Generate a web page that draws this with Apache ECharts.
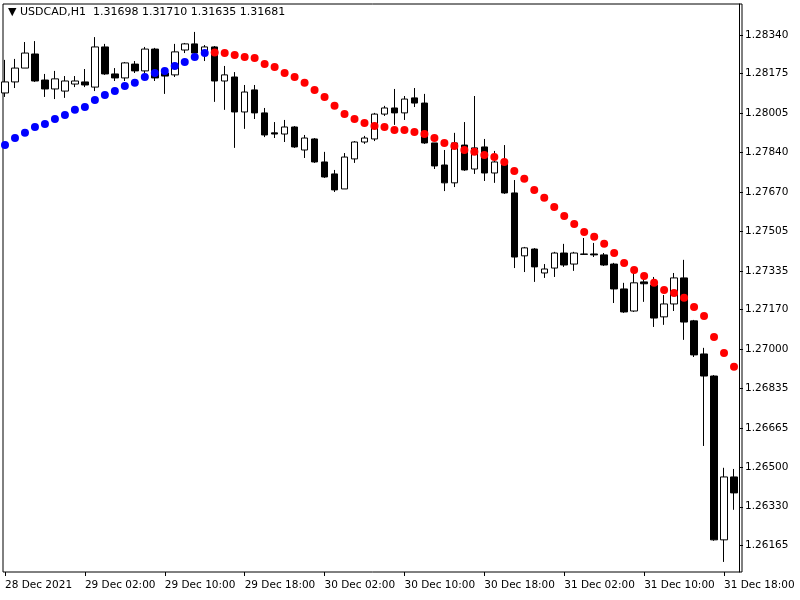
<!DOCTYPE html>
<html><head><meta charset="utf-8">
<script src="https://cdn.jsdelivr.net/npm/echarts@6/dist/echarts.min.js"></script>
<style>html,body{margin:0;padding:0;background:#fff}#c{width:800px;height:600px}</style>
</head><body><div id="c"></div>
<script>
// [open, close, low, high]
const candles = [
[1.28093,1.28140,1.28076,1.28234],[1.28140,1.28199,1.28114,1.28238],[1.28199,1.28263,1.28199,1.28310],[1.28259,1.28144,1.28140,1.28314],
[1.28148,1.28110,1.28076,1.28174],[1.28110,1.28153,1.28067,1.28187],[1.28101,1.28144,1.28072,1.28165],[1.28131,1.28144,1.28118,1.28165],
[1.28140,1.28127,1.28118,1.28195],[1.28118,1.28289,1.28101,1.28331],[1.28289,1.28174,1.28170,1.28302],[1.28174,1.28157,1.28144,1.28199],
[1.28157,1.28221,1.28144,1.28225],[1.28216,1.28187,1.28178,1.28229],[1.28187,1.28280,1.28178,1.28289],[1.28280,1.28157,1.28144,1.28285],
[1.28178,1.28165,1.28089,1.28191],[1.28170,1.28268,1.28161,1.28302],[1.28276,1.28302,1.28263,1.28306],[1.28302,1.28263,1.28238,1.28353],
[1.28268,1.28289,1.28229,1.28297],[1.28289,1.28144,1.28055,1.28293],[1.28144,1.28170,1.28021,1.28208],[1.28161,1.28012,1.27859,1.28182],
[1.28012,1.28097,1.27940,1.28127],[1.28106,1.28008,1.27982,1.28127],[1.28008,1.27914,1.27905,1.28029],[1.27923,1.27918,1.27901,1.27969],
[1.27918,1.27948,1.27884,1.27978],[1.27948,1.27863,1.27859,1.27952],[1.27850,1.27901,1.27816,1.27914],[1.27897,1.27799,1.27795,1.27901],
[1.27799,1.27735,1.27731,1.27842],[1.27748,1.27680,1.27671,1.27765],[1.27684,1.27820,1.27684,1.27837],[1.27812,1.27884,1.27795,1.27888],
[1.27884,1.27901,1.27876,1.27910],[1.27897,1.28003,1.27888,1.28008],[1.28003,1.28029,1.27995,1.28038],[1.28029,1.28008,1.27957,1.28110],
[1.28008,1.28067,1.27978,1.28080],[1.28072,1.28050,1.28033,1.28114],[1.28050,1.27880,1.27876,1.28089],[1.27880,1.27782,1.27769,1.27880],
[1.27786,1.27710,1.27675,1.27850],[1.27710,1.27880,1.27692,1.27923],[1.27871,1.27765,1.27761,1.27969],[1.27769,1.27859,1.27748,1.28080],
[1.27863,1.27752,1.27718,1.27897],[1.27752,1.27799,1.27710,1.27846],[1.27799,1.27667,1.27663,1.27871],[1.27667,1.27394,1.27347,1.27722],
[1.27399,1.27433,1.27330,1.27437],[1.27428,1.27352,1.27288,1.27432],[1.27326,1.27343,1.27305,1.27364],[1.27347,1.27411,1.27309,1.27416],
[1.27411,1.27360,1.27352,1.27450],[1.27364,1.27411,1.27335,1.27416],[1.27405,1.27407,1.27403,1.27475],[1.27407,1.27403,1.27394,1.27454],
[1.27403,1.27360,1.27356,1.27411],[1.27364,1.27258,1.27198,1.27369],[1.27258,1.27160,1.27156,1.27284],[1.27164,1.27284,1.27160,1.27326],
[1.27288,1.27280,1.27203,1.27326],[1.27275,1.27134,1.27096,1.27309],[1.27139,1.27194,1.27105,1.27232],[1.27194,1.27305,1.27164,1.27326],
[1.27305,1.27117,1.27041,1.27382],[1.27122,1.26977,1.26968,1.27126],[1.26981,1.26887,1.26589,1.27007],[1.26887,1.26189,1.26185,1.26891],
[1.26189,1.26457,1.26095,1.26496],[1.26457,1.26389,1.26317,1.26491]
];
const dots = [1.27871,1.27901,1.27923,1.27948,1.27961,1.27982,1.27999,1.28021,1.28033,1.28063,1.28084,1.28101,1.28123,1.28136,1.28161,1.28178,1.28187,1.28208,1.28225,1.28246,1.28263,
1.28265,1.28263,1.28255,1.28246,1.28242,1.28216,1.28204,1.28178,1.28161,1.28136,1.28106,1.28076,1.28038,1.28003,1.27982,1.27965,1.27952,1.27948,1.27935,1.27935,1.27927,1.27918,1.27901,1.27880,1.27867,1.27850,1.27842,1.27829,1.27820,1.27799,1.27761,1.27727,1.27680,1.27646,1.27607,1.27569,1.27535,1.27501,1.27480,1.27450,1.27411,1.27369,1.27339,1.27313,1.27284,1.27254,1.27241,1.27220,1.27181,1.27143,1.27053,1.26985,1.26926];
const blueCount = 21;
const yTicks = [1.28340,1.28175,1.28005,1.27840,1.27670,1.27505,1.27335,1.27170,1.27000,1.26835,1.26665,1.26500,1.26330,1.26165];
const xLabels = {0:'28 Dec 2021',8:'29 Dec 02:00',16:'29 Dec 10:00',24:'29 Dec 18:00',32:'30 Dec 02:00',40:'30 Dec 10:00',48:'30 Dec 18:00',56:'31 Dec 02:00',64:'31 Dec 10:00',72:'31 Dec 18:00'};
const cats = candles.map((_, i) => String(i));
const blue = dots.map((v, i) => i < blueCount ? v : null);
const red = dots.map((v, i) => i >= blueCount ? v : null);

const chart = echarts.init(document.getElementById('c'));
const font = {fontFamily:'DejaVu Sans', fontSize:10.5, color:'#000'};
chart.setOption({
  animation:false,
  backgroundColor:'#fff',
  grid:{left:-1, width:740, top:4, bottom:28},
  graphic:[
    {type:'rect', shape:{x:3,y:4,width:739,height:568}, style:{fill:null,stroke:'#000',lineWidth:1}, silent:true},
    {type:'text', left:8, top:7, style:{text:'\u25BC USDCAD,H1  1.31698 1.31710 1.31635 1.31681', font:'11px DejaVu Sans', fill:'#000'}}
  ],
  xAxis:{type:'category', data:cats, boundaryGap:true,
    axisLine:{show:false},
    axisTick:{show:true, alignWithLabel:true, interval:(i)=>i%8===0, length:4, lineStyle:{color:'#000'}},
    axisLabel:Object.assign({interval:(i)=>i%8===0, formatter:(v)=>xLabels[v]||'', align:'left', margin:8}, font),
    splitLine:{show:false}},
  yAxis:{type:'value', position:'right', min:1.26052, max:1.28472,
    axisLine:{show:true, lineStyle:{color:'#000'}},
    axisTick:{show:true, customValues:yTicks, length:4, lineStyle:{color:'#000'}},
    axisLabel:Object.assign({customValues:yTicks, formatter:(v)=>v.toFixed(5), margin:6}, font),
    splitLine:{show:false}},
  series:[
    {type:'candlestick', data:candles, barWidth:7,
     itemStyle:{color:'#fff', color0:'#000', borderColor:'#000', borderColor0:'#000', borderWidth:1}},
    {type:'scatter', data:blue, symbolSize:8, itemStyle:{color:'#0000ff', opacity:1}},
    {type:'scatter', data:red, symbolSize:8, itemStyle:{color:'#ff0000', opacity:1}}
  ]
});
</script></body></html>
